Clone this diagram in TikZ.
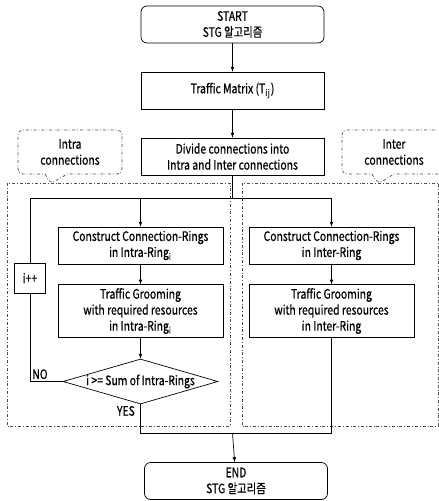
\documentclass[tikz,border=0pt]{standalone}
\usepackage{fontspec}
\setmainfont{Noto Sans CJK KR}[FakeStretch=0.8,FakeBold=0.6]
\usetikzlibrary{shapes.geometric}
\usetikzlibrary{shapes.callouts}
\tikzstyle{stg}=[draw,rounded corners=6pt,minimum width=183pt,minimum height=37pt,align=center]
\tikzstyle{wide}=[draw,minimum width=183pt,minimum height=37pt,align=center]
\tikzstyle{blk}=[draw,minimum width=165pt,minimum height=37pt,align=center]
\tikzstyle{tall}=[blk,minimum height=52pt]
\tikzstyle{dec}=[draw,diamond,minimum width=155pt,minimum height=45pt,inner sep=0pt]
\tikzstyle{frame}=[draw=black!70,dash dot]
\tikzstyle{callbox}=[rectangle callout,draw=black!70,dash dot,rounded corners=5pt,
  minimum width=104pt,minimum height=44pt,align=center,callout pointer width=22pt]
\tikzstyle{flow}=[->,>=latex]

\begin{document}
\begin{tikzpicture}[x=1pt,y=-1pt,node distance=66pt,line width=0.7pt,
  font=\fontsize{13}{16}\selectfont]
  \clip (0,0) rectangle (439,501);
  \node [stg] (start) at (232.5,24.5) {START\\STG 알고리즘};
  \node [wide] (tm) [below of=start] {Traffic Matrix (T$_{\mathrm{ij}}$)};
  \node [wide] (div) [below of=tm] {Divide connections into\\Intra and Inter connections};
  \node [callbox,callout absolute pointer={(50,184)}] (intrac) at (70,152) {Intra\\connections};
  \node [callbox,callout absolute pointer={(378,184)}] (interc) at (394,152) {Inter\\connections};
  % dash-dot frames
  \draw [frame] (7,183) rectangle (230,426);
  \draw [frame] (242,183) rectangle (438,426);
  % intra side
  \node [blk] (cons1) at (140.5,245.5) {Construct Connection-Rings\\in Intra-Ring$_{\mathrm{i}}$};
  \node [tall] (groom1) at (140.5,311) {Traffic Grooming\\with required resources\\in Intra-Ring$_{\mathrm{i}}$};
  \node [dec] (test) at (140.5,381.5) {};
  \node (testt) at (test) {i >= Sum of Intra-Rings};
  \node [draw,minimum width=31pt,minimum height=30pt] (inc) at (30,278) {i++};
  % inter side
  \node [blk] (cons2) at (331.5,245.5) {Construct Connection-Rings\\in Inter-Ring};
  \node [tall] (groom2) at (331.5,311) {Traffic Grooming\\with required resources\\in Inter-Ring};
  \node [stg] (end) at (236,481) {END\\STG 알고리즘};
  \coordinate (split) at (div.south |- 0,198);
  \coordinate (lft) at (inc.north |- split);
  \coordinate (join) at (div.south |- 0,433);
  \draw [flow] (start) -- (tm);
  \draw [flow] (tm) -- (div);
  \draw (div.south) -- (split);
  \draw (lft) -- (cons2.north |- split);
  \draw [flow] (cons1.north |- split) -- (cons1);
  \draw [flow] (cons2.north |- split) -- (cons2);
  \draw [flow] (cons1) -- (groom1);
  \draw [flow] (cons2) -- (groom2);
  \draw [flow] (groom1) -- (test);
  \draw (lft) -- (inc);
  \draw (inc) |- (test.west) node [pos=0.5,above right,inner sep=2pt] {NO};
  \draw (test.south) |- (groom2.south |- join) -- (groom2.south);
  \draw (test.south) -- ++(0,12) node [left=2pt,pos=0.55] {YES};
  \draw [flow] (join) -- (end);
\end{tikzpicture}
\end{document}
